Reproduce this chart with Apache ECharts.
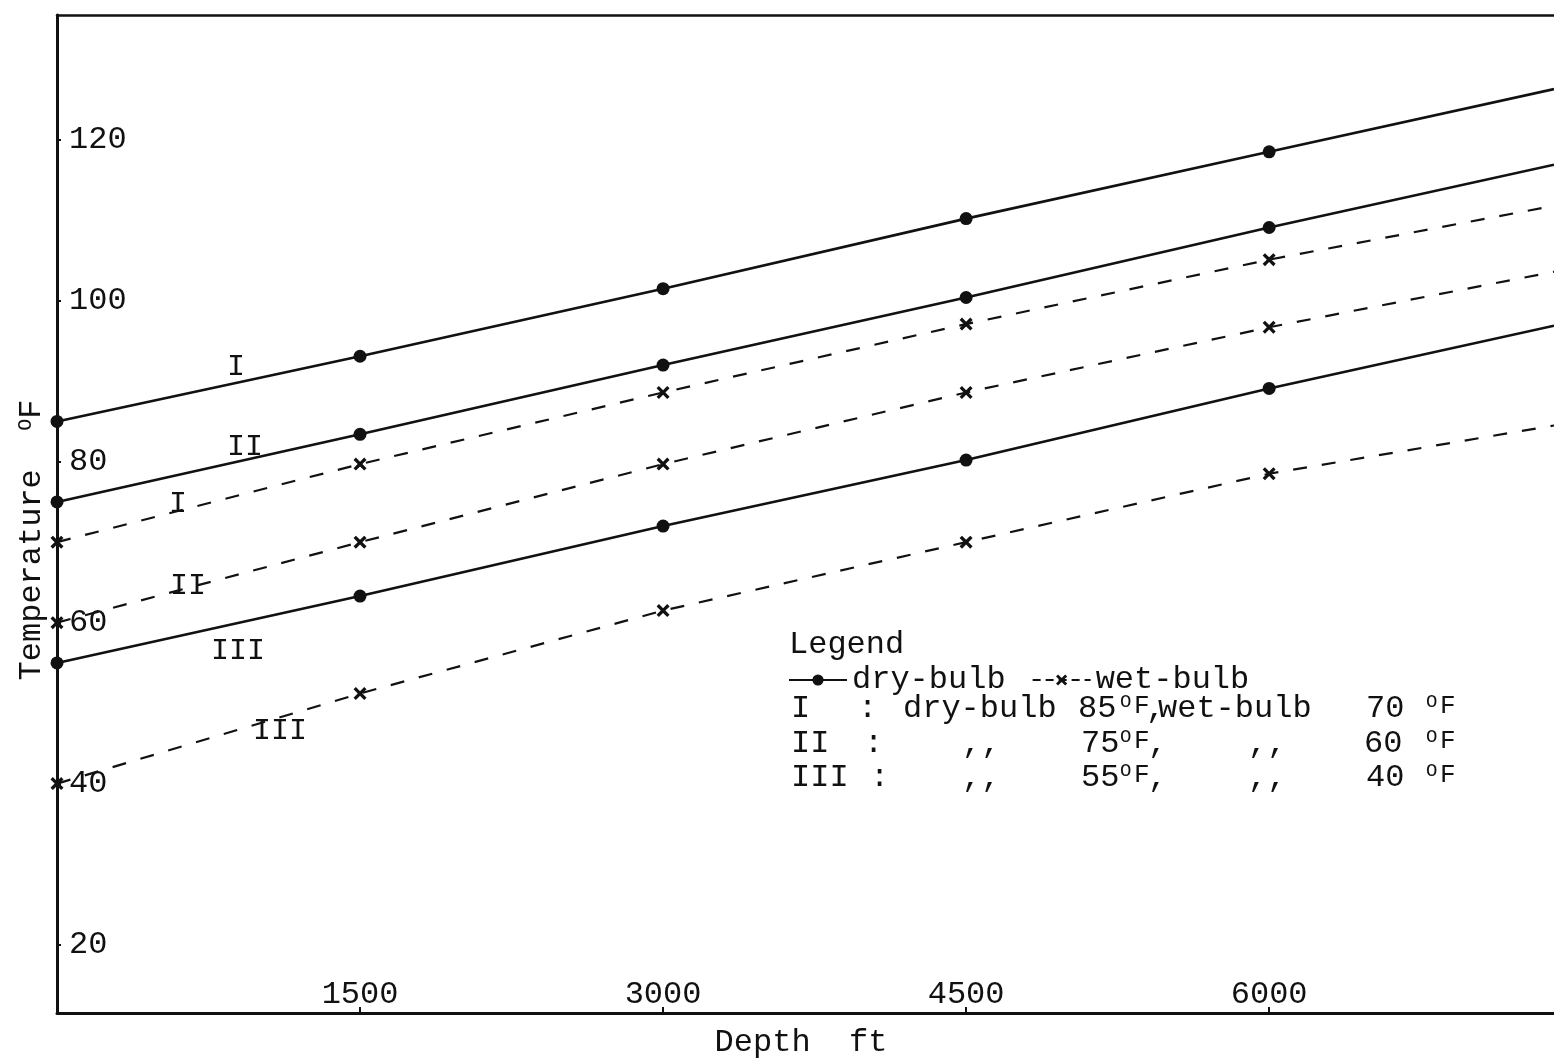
<!DOCTYPE html>
<html>
<head>
<meta charset="utf-8">
<script src="https://cdn.jsdelivr.net/npm/echarts@6/dist/echarts.min.js"></script>
<style>
html,body{margin:0;padding:0;background:#fff;}
#chart{width:1554px;height:1064px;}
</style>
</head>
<body>
<div id="chart"></div>
<script>
// ---- data ----
const depths = [0, 1500, 3000, 4500, 6000, 7410];          // ft (last = where the line leaves the frame)
const dryI   = [85, 93.1, 101.5, 110.2, 118.5, 126.3];      // dry-bulb, case I
const dryII  = [75, 83.4, 92.0, 100.4, 109.1, 116.9];       // dry-bulb, case II
const dryIII = [55, 63.3, 72.0, 80.2, 89.1, 96.9];          // dry-bulb, case III
const wetI   = [70, 79.7, 88.6, 97.1, 105.1, 111.8];        // wet-bulb, case I
const wetII  = [60, 70.0, 79.7, 88.6, 96.7, 103.6];         // wet-bulb, case II
const wetIII = [40, 51.2, 61.5, 70.0, 78.5, 84.5];          // wet-bulb, case III
const markedCount = 5;                                      // points with a plotted marker
const yTicks = [20, 40, 60, 80, 100, 120];
const xTicks = [1500, 3000, 4500, 6000];

// curve annotations (roman numerals), in data units
const noteText  = ['I', 'II', 'III', 'I', 'II', 'III'];
const noteDepth = [886, 931, 896, 599, 649, 1104];
const noteTemp  = [91.7, 81.8, 56.5, 74.7, 64.6, 46.5];

const MONO = '"Liberation Mono", "DejaVu Sans Mono", monospace';
const INK = '#111';
const XPATH = 'path://M0,1.8 L1.8,0 L5,3.2 L8.2,0 L10,1.8 L6.8,5 L10,8.2 L8.2,10 L5,6.8 L1.8,10 L0,8.2 L3.2,5 Z';

function mkSeries(name, vals, wet) {
  const sym = wet ? XPATH : 'circle';
  return {
    name: name,
    type: 'line',
    symbol: sym,
    data: depths.map((d, i) => i < markedCount ? [d, vals[i]] : { value: [d, vals[i]], symbol: 'none' }),
    symbolSize: wet ? 13 : 13,
    showAllSymbol: true,
    clip: false,
    lineStyle: wet ? { color: INK, width: 2.2, type: [14, 15] } : { color: INK, width: 2.6 },
    itemStyle: { color: INK, borderColor: INK, borderWidth: 0 },
    emphasis: { disabled: true },
    z: 3
  };
}

const chart = echarts.init(document.getElementById('chart'), null, { renderer: 'canvas' });

const axisText = { fontFamily: MONO, fontSize: 32, color: INK };

const option = {
  animation: false,
  backgroundColor: '#ffffff',
  grid: { left: 57, right: 0, top: 15, bottom: 49, show: false },
  legend: {
    left: 783, top: 659,
    itemWidth: 58, itemHeight: 14, itemGap: 26,
    textStyle: axisText,
    data: [{ name: 'dry-bulb' }, { name: 'wet-bulb', lineStyle: { type: [8, 5] } }],
    selectedMode: false
  },
  xAxis: [{
    type: 'value', min: 0, max: depths[depths.length - 1],
    name: 'Depth  ft', nameLocation: 'middle', nameGap: 14,
    nameTextStyle: Object.assign({ padding: [0, 9, 0, 0] }, axisText),
    axisLine: { show: true, lineStyle: { color: INK, width: 3 } },
    axisTick: { show: true, inside: true, length: 6, customValues: xTicks, lineStyle: { color: INK, width: 2 } },
    axisLabel: Object.assign({ inside: true, margin: 2, customValues: xTicks, formatter: v => String(v) }, axisText),
    splitLine: { show: false }
  }, {
    type: 'value', position: 'top', min: 0, max: depths[depths.length - 1],
    axisLine: { show: true, lineStyle: { color: INK, width: 2.5 } },
    axisTick: { show: false }, axisLabel: { show: false }, splitLine: { show: false }
  }],
  yAxis: {
    type: 'value', min: 11.5, max: 135.5,
    name: 'Temperature  {s|O}F', nameLocation: 'middle', nameRotate: 90, nameGap: 9,
    nameTextStyle: Object.assign({
      padding: [0, 52, 0, 0],
      rich: { s: { fontFamily: MONO, fontSize: 20, color: INK, verticalAlign: 'top' } }
    }, axisText),
    axisLine: { show: true, lineStyle: { color: INK, width: 3 } },
    axisTick: { show: true, inside: true, length: 4, customValues: yTicks, lineStyle: { color: INK, width: 2 } },
    axisLabel: Object.assign({ inside: true, margin: 12, customValues: yTicks }, axisText),
    splitLine: { show: false }
  },
  series: [
    mkSeries('dry-bulb', dryI, false),
    mkSeries('dry-bulb', dryII, false),
    mkSeries('dry-bulb', dryIII, false),
    mkSeries('wet-bulb', wetI, true),
    mkSeries('wet-bulb', wetII, true),
    mkSeries('wet-bulb', wetIII, true)
  ]
};
chart.setOption(option);

// ---- text annotations ----
const graphics = [];
function txt(x, y, s, size) {
  graphics.push({
    type: 'text', x: x, y: y, z: 10,
    style: { text: s, font: size + 'px ' + MONO, fill: INK, textAlign: 'left', textVerticalAlign: 'middle' }
  });
}
function degF(x, y) {
  txt(x, y - 7, 'O', 19);
  txt(x + 14, y - 3, 'F', 26);
}

// roman numerals on the curves, placed through the chart's own scales
noteText.forEach((t, i) => {
  const p = chart.convertToPixel({ gridIndex: 0 }, [noteDepth[i], noteTemp[i]]);
  graphics.push({
    type: 'text', x: p[0], y: p[1], z: 10,
    style: { text: t, font: '30px ' + MONO, fill: INK, textAlign: 'center', textVerticalAlign: 'middle' }
  });
});

// legend block text
txt(789, 645, 'Legend', 32);
// line: I
txt(791, 709, 'I', 32);
txt(858, 709, ':', 32);
txt(903, 709, 'dry-bulb', 32);
txt(1078, 709, '85', 32);
degF(1120, 709);
txt(1146, 709, ',', 32);
txt(1158, 709, 'wet-bulb', 32);
txt(1366, 709, '70', 32);
degF(1426, 709);
// line: II
txt(791, 744, 'II', 32);
txt(864, 744, ':', 32);
txt(962, 744, ',,', 32);
txt(1081, 744, '75', 32);
degF(1120, 744);
txt(1148, 744, ',', 32);
txt(1248, 744, ',,', 32);
txt(1364, 744, '60', 32);
degF(1426, 744);
// line: III
txt(791, 778, 'III', 32);
txt(870, 778, ':', 32);
txt(962, 778, ',,', 32);
txt(1081, 778, '55', 32);
degF(1120, 778);
txt(1148, 778, ',', 32);
txt(1248, 778, ',,', 32);
txt(1366, 778, '40', 32);
degF(1426, 778);

chart.setOption({ graphic: graphics });
</script>
</body>
</html>
